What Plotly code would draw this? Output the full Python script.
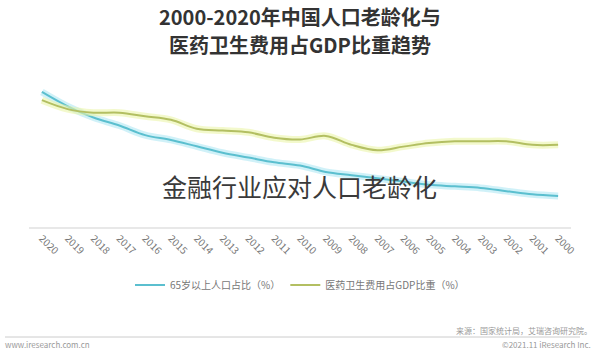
import plotly.graph_objects as go

years = list(range(2020, 1999, -1))
aging = [13.5, 12.6, 11.9, 11.4, 10.8, 10.5, 10.1, 9.7, 9.4, 9.1, 8.9,
         8.5, 8.3, 8.1, 7.9, 7.7, 7.6, 7.5, 7.3, 7.1, 7.0]
health = [7.1, 6.6, 6.4, 6.4, 6.2, 6.0, 5.5, 5.4, 5.3, 5.0, 4.9,
          5.1, 4.6, 4.3, 4.5, 4.7, 4.8, 4.8, 4.8, 4.6, 4.6]
name_aging = "65岁以上人口占比（%）"
name_health = "医药卫生费用占GDP比重（%）"
title1 = "2000-2020年中国人口老龄化与"
title2 = "医药卫生费用占GDP比重趋势"
overlay = "金融行业应对人口老龄化"
source = "来源：国家统计局，艾瑞咨询研究院。"
copyright_txt = "©2021.11 iResearch Inc."
url = "www.iresearch.com.cn"

FONT = "Noto Sans CJK SC"
cyan, cyan_glow = "#5bbfcf", "rgba(150,225,240,0.45)"
green, green_glow = "#b3bf62", "rgba(235,245,170,0.6)"

fig = go.Figure()
fig.add_trace(go.Scatter(x=years, y=aging, mode="lines", line=dict(color=cyan_glow, width=7, shape="spline"),
                         showlegend=False, hoverinfo="skip", yaxis="y"))
fig.add_trace(go.Scatter(x=years, y=health, mode="lines", line=dict(color=green_glow, width=7, shape="spline"),
                         showlegend=False, hoverinfo="skip", yaxis="y2"))
fig.add_trace(go.Scatter(x=years, y=aging, mode="lines", name=name_aging,
                         line=dict(color=cyan, width=2, shape="spline"), yaxis="y"))
fig.add_trace(go.Scatter(x=years, y=health, mode="lines", name=name_health,
                         line=dict(color=green, width=2, shape="spline"), yaxis="y2"))

L, R, T, B = 29, 29, 70, 124
H = 351 - T - B
W = 600 - L - R
def px(p):
    return (p - L) / W
def py(p):
    return (351 - B - p) / H

fig.update_layout(
    width=600, height=351,
    margin=dict(l=L, r=R, t=T, b=B),
    paper_bgcolor="white", plot_bgcolor="white",
    font=dict(family=FONT, color="#666"),
    xaxis=dict(range=[2020.5, 1999.5], tickmode="array", tickvals=years,
               ticktext=[str(y) for y in years], tickangle=45,
               tickfont=dict(size=10, color="#777"), showgrid=False, zeroline=False,
               showline=True, linecolor="#e8e8e8", linewidth=1.5, ticks=""),
    yaxis=dict(range=[5.06, 14.87], visible=False),
    yaxis2=dict(range=[0, 8.79], visible=False, overlaying="y"),
    legend=dict(orientation="h", x=0.5, xanchor="center", y=py(285), yanchor="middle",
                font=dict(size=10, color="#777"), itemwidth=30, bgcolor="rgba(0,0,0,0)"),
    showlegend=True,
)

ann = [
    dict(text=f"<b>{title1}</b>", x=0.5, y=py(16), font=dict(size=20, color="#333")),
    dict(text=f"<b>{title2}</b>", x=0.5, y=py(44), font=dict(size=20, color="#333")),
    dict(text=overlay, x=px(299), y=py(186), font=dict(size=25, color="#3a3a3a")),
    dict(text=source, x=px(594), y=py(330), xanchor="right", font=dict(size=8, color="#999")),
    dict(text=copyright_txt, x=px(593), y=py(344), xanchor="right", font=dict(size=8, color="#999")),
    dict(text=url, x=px(3), y=py(344), xanchor="left", font=dict(size=8, color="#999")),
]
for a in ann:
    a.setdefault("xanchor", "center")
    fig.add_annotation(xref="paper", yref="paper", showarrow=False, yanchor="middle", **a)

fig.add_shape(type="line", xref="paper", yref="paper", x0=px(5), x1=px(580), y0=py(337), y1=py(337),
              line=dict(color="#cccccc", width=1))

fig.write_html("out.html")
